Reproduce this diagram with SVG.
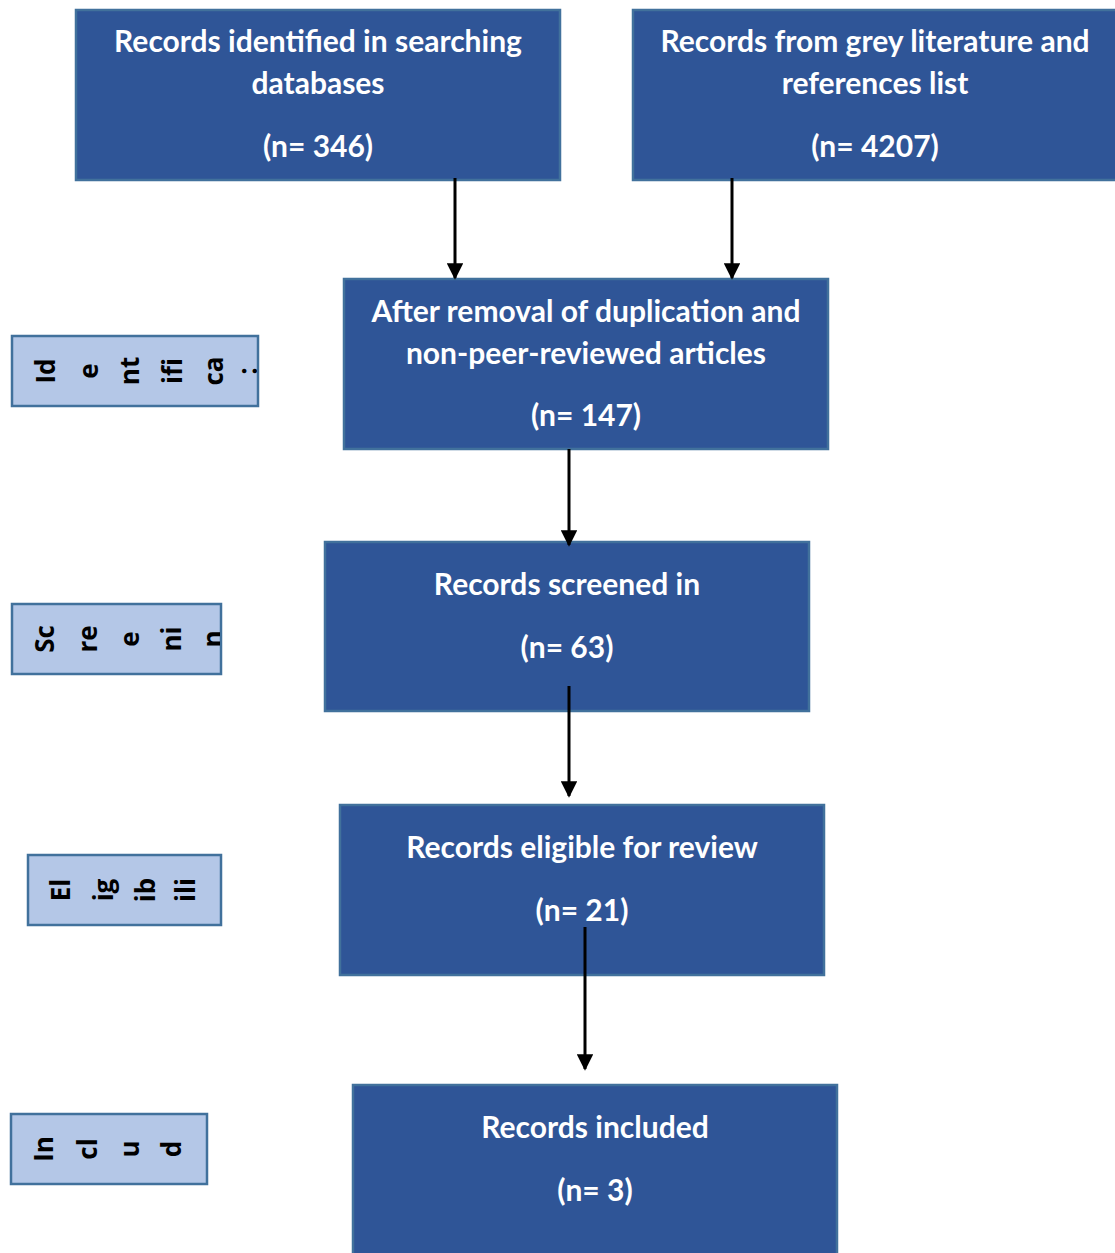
<svg xmlns="http://www.w3.org/2000/svg" width="1115" height="1253" viewBox="0 0 1115 1253">
<style>
.box{fill:#2F5597;stroke:#41719C;stroke-width:2.5}
.side{fill:#B4C7E7;stroke:#41719C;stroke-width:2.5}
.t{font-family:Lato,"Open Sans","Liberation Sans",sans-serif;font-weight:bold;font-size:30px;fill:#fff;text-anchor:middle}
.s{font-family:"Open Sans","Liberation Sans",sans-serif;font-weight:bold;font-size:26px;fill:#000;text-anchor:middle;dominant-baseline:central}
.c{stroke:#000;stroke-width:3;fill:none;marker-end:url(#ah)}
</style>
<defs>
<marker id="ah" viewBox="0 0 10 10" refX="9" refY="5" markerWidth="6" markerHeight="5.5" orient="auto" markerUnits="strokeWidth"><path d="M0,0 L10,5 L0,10 z" fill="#000"/></marker>
<clipPath id="cA"><rect x="13" y="337" width="244" height="68"/></clipPath>
<clipPath id="cB"><rect x="13" y="605" width="207" height="68"/></clipPath>
</defs>
<g id="n1"><rect class="box" x="76" y="10" width="484" height="170"/>
<text class="t" x="318" y="52">Records identified in searching</text>
<text class="t" x="318" y="94">databases</text>
<text class="t" x="318" y="157">(n= 346)</text></g>
<g id="n2"><rect class="box" x="633" y="10" width="490" height="170"/>
<text class="t" x="875" y="52">Records from grey literature and</text>
<text class="t" x="875" y="94">references list</text>
<text class="t" x="875" y="157">(n= 4207)</text></g>
<g id="n3"><rect class="box" x="344" y="279" width="484" height="170"/>
<text class="t" x="586" y="322">After removal of duplication and</text>
<text class="t" x="586" y="364">non-peer-reviewed articles</text>
<text class="t" x="586" y="426">(n= 147)</text></g>
<g id="n4"><rect class="box" x="325" y="542" width="484" height="169"/>
<text class="t" x="567" y="595">Records screened in</text>
<text class="t" x="567" y="658">(n= 63)</text></g>
<g id="n5"><rect class="box" x="340" y="805" width="484" height="170"/>
<text class="t" x="582" y="858">Records eligible for review</text>
<text class="t" x="582" y="921">(n= 21)</text></g>
<g id="n6"><rect class="box" x="353" y="1085" width="484" height="180"/>
<text class="t" x="595" y="1138">Records included</text>
<text class="t" x="595" y="1201">(n= 3)</text></g>
<g id="connectors">
<line class="c" x1="455" y1="178" x2="455" y2="278"/>
<line class="c" x1="732" y1="178" x2="732" y2="278"/>
<line class="c" x1="569" y1="449" x2="569" y2="545"/>
<line class="c" x1="569" y1="686" x2="569" y2="796"/>
<line class="c" x1="585" y1="927" x2="585" y2="1069"/>
</g>
<g id="sideA"><rect class="side" x="12" y="336" width="246" height="70"/>
<g clip-path="url(#cA)">
<text class="s" transform="translate(45,371) rotate(-90)">Id</text>
<text class="s" transform="translate(88,371) rotate(-90)">e</text>
<text class="s" transform="translate(129,371) rotate(-90)">nt</text>
<text class="s" transform="translate(172,371) rotate(-90)">ifi</text>
<text class="s" transform="translate(213,371) rotate(-90)">ca</text>
<text class="s" transform="translate(247,371) rotate(-90)">:</text>
</g></g>
<g id="sideB"><rect class="side" x="12" y="604" width="209" height="70"/>
<g clip-path="url(#cB)">
<text class="s" transform="translate(44,639) rotate(-90)">Sc</text>
<text class="s" transform="translate(87,639) rotate(-90)">re</text>
<text class="s" transform="translate(129,639) rotate(-90)">e</text>
<text class="s" transform="translate(171,639) rotate(-90)">ni</text>
<text class="s" transform="translate(212,639) rotate(-90)">n</text>
</g></g>
<g id="sideC"><rect class="side" x="28" y="855" width="193" height="70"/>
<text class="s" transform="translate(60,890) rotate(-90)">El</text>
<text class="s" transform="translate(103,890) rotate(-90)">ig</text>
<text class="s" transform="translate(145,890) rotate(-90)">ib</text>
<text class="s" transform="translate(185,890) rotate(-90)">ili</text>
</g>
<g id="sideD"><rect class="side" x="11" y="1114" width="196" height="70"/>
<text class="s" transform="translate(43,1149) rotate(-90)">In</text>
<text class="s" transform="translate(87,1149) rotate(-90)">cl</text>
<text class="s" transform="translate(129,1149) rotate(-90)">u</text>
<text class="s" transform="translate(171,1149) rotate(-90)">d</text>
</g>
</svg>
